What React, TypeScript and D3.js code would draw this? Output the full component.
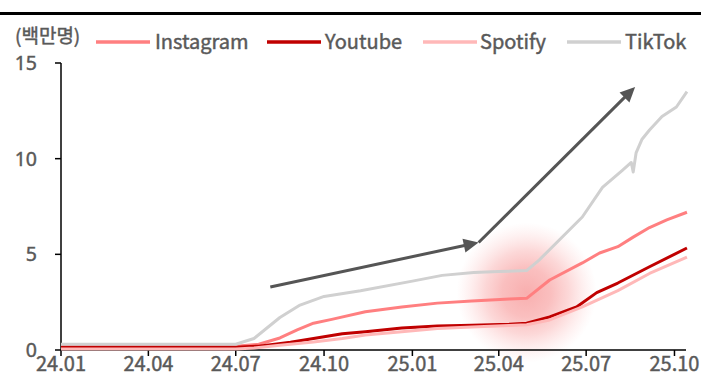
import React from "react";
import * as d3 from "d3";

const W = 701;
const H = 383;

const seriesNames = ["Instagram", "Youtube", "Spotify", "TikTok"];
const seriesColors = ["#ff7f80", "#c00000", "#ffb8b8", "#d0d0d0"];

const instagramDates = ["2024-01-01", "2024-07-01", "2024-07-25", "2024-08-16", "2024-09-03", "2024-09-20", "2024-10-09", "2024-11-13", "2024-12-21", "2025-01-27", "2025-03-04", "2025-04-12", "2025-04-30", "2025-05-24", "2025-06-27", "2025-07-15", "2025-08-03", "2025-08-19", "2025-09-05", "2025-09-23", "2025-10-14"];
const instagramValues = [0.2, 0.2, 0.3, 0.63, 1.05, 1.4, 1.6, 2.0, 2.25, 2.45, 2.56, 2.67, 2.7, 3.66, 4.55, 5.07, 5.4, 5.9, 6.4, 6.8, 7.2];

const youtubeDates = ["2024-01-01", "2024-07-01", "2024-07-25", "2024-08-27", "2024-09-20", "2024-10-20", "2024-11-13", "2024-12-21", "2025-01-27", "2025-03-04", "2025-04-12", "2025-04-30", "2025-05-24", "2025-06-21", "2025-07-12", "2025-08-03", "2025-09-05", "2025-10-14"];
const youtubeValues = [0.15, 0.15, 0.2, 0.4, 0.6, 0.85, 0.95, 1.15, 1.25, 1.3, 1.35, 1.4, 1.73, 2.25, 3.0, 3.5, 4.35, 5.33];

const spotifyDates = ["2024-01-01", "2024-07-01", "2024-07-20", "2024-08-16", "2024-09-20", "2024-10-20", "2024-11-13", "2024-12-21", "2025-01-27", "2025-03-04", "2025-04-12", "2025-04-30", "2025-05-24", "2025-06-27", "2025-08-03", "2025-09-05", "2025-10-14"];
const spotifyValues = [0.05, 0.05, 0.1, 0.25, 0.42, 0.6, 0.78, 0.95, 1.12, 1.2, 1.28, 1.32, 1.57, 2.25, 3.1, 4.0, 4.86];

const tiktokDates = ["2024-01-01", "2024-07-01", "2024-07-20", "2024-08-16", "2024-09-06", "2024-10-01", "2024-11-08", "2025-01-01", "2025-02-01", "2025-03-06", "2025-04-01", "2025-04-30", "2025-05-13", "2025-06-03", "2025-06-27", "2025-07-18", "2025-08-08", "2025-08-17", "2025-08-19", "2025-08-22", "2025-08-28", "2025-09-05", "2025-09-18", "2025-10-03", "2025-10-14"];
const tiktokValues = [0.3, 0.3, 0.6, 1.7, 2.35, 2.8, 3.1, 3.6, 3.9, 4.05, 4.1, 4.15, 4.7, 5.75, 6.95, 8.5, 9.4, 9.8, 9.3, 10.3, 11.0, 11.5, 12.2, 12.7, 13.5];

const xTickDates = ["2024-01-01", "2024-04-01", "2024-07-01", "2024-10-01", "2025-01-01", "2025-04-01", "2025-07-01", "2025-10-01"];
const xTickLabels = ["24.01", "24.04", "24.07", "24.10", "25.01", "25.04", "25.07", "25.10"];
const yTicks = [0, 5, 10, 15];
const unitLabel = "(백만명)";

// Trend arrows in data space: [date, value] waypoints
const arrowPoints: [string, number][] = [["2024-08-06", 3.29], ["2025-03-11", 5.62], ["2025-08-21", 13.75]];
// Highlight glow centre
const glowCenter: [string, number] = ["2025-04-30", 3.0];

const parse = d3.utcParse("%Y-%m-%d");

const seriesDates = [instagramDates, youtubeDates, spotifyDates, tiktokDates];
const seriesValues = [instagramValues, youtubeValues, spotifyValues, tiktokValues];

const FONT = "'Noto Sans CJK KR', 'Noto Sans', sans-serif";
const NUM_FONT = "'Noto Sans', sans-serif";
const TEXT = "#595959";
const textStyle = { fontFamily: FONT, fontSize: 20, fill: TEXT, stroke: TEXT, strokeWidth: 0.45 } as const;

export default function App() {
  const x = d3
    .scaleUtc()
    .domain([parse("2024-01-01")!, parse("2025-10-13")!])
    .range([61, 686]);
  const y = d3.scaleLinear().domain([0, 15]).range([350, 63]);

  const line = d3
    .line<[Date, number]>()
    .x((d) => x(d[0]))
    .y((d) => y(d[1]))
    .curve(d3.curveLinear);

  const paths = seriesNames.map((name, i) => {
    const pts: [Date, number][] = seriesDates[i].map((ds, j) => [parse(ds)!, seriesValues[i][j]]);
    return { name, color: seriesColors[i], d: line(pts) || "" };
  });

  const ap = arrowPoints.map(([ds, v]) => [x(parse(ds)!), y(v)] as [number, number]);
  const arrowHead = (from: [number, number], to: [number, number]) => {
    const ang = Math.atan2(to[1] - from[1], to[0] - from[0]);
    const len = 15;
    const half = 7;
    const bx = to[0] - len * Math.cos(ang);
    const by = to[1] - len * Math.sin(ang);
    const px = -Math.sin(ang) * half;
    const py = Math.cos(ang) * half;
    return `M${to[0]},${to[1]}L${bx + px},${by + py}L${bx - px},${by - py}Z`;
  };
  const shaft = (from: [number, number], to: [number, number]) => {
    const ang = Math.atan2(to[1] - from[1], to[0] - from[0]);
    const ex = to[0] - 12 * Math.cos(ang);
    const ey = to[1] - 12 * Math.sin(ang);
    return `M${from[0]},${from[1]}L${ex},${ey}`;
  };

  const gx = x(parse(glowCenter[0])!);
  const gy = y(glowCenter[1]);

  const legendItems = [
    { x0: 96, label: 155 },
    { x0: 267, label: 325 },
    { x0: 423, label: 480 },
    { x0: 567, label: 625 },
  ];

  return (
    <div style={{ position: "fixed", left: 0, top: 0, width: W, height: H, background: "#fff" }}>
      <svg width={W} height={H} style={{ display: "block" }}>
        <defs>
          <radialGradient id="glow" cx="50%" cy="50%" r="50%">
            <stop offset="0%" stopColor="#f04848" stopOpacity={0.44} />
            <stop offset="35%" stopColor="#f25252" stopOpacity={0.37} />
            <stop offset="60%" stopColor="#f46262" stopOpacity={0.25} />
            <stop offset="80%" stopColor="#f77777" stopOpacity={0.12} />
            <stop offset="100%" stopColor="#fa9090" stopOpacity={0} />
          </radialGradient>
        </defs>
        <rect x={0} y={0} width={W} height={H} fill="#fff" />
        <rect x={0} y={12} width={W} height={3} fill="#000" />

        {/* legend */}
        <text x={15} y={43} {...textStyle} fontSize={19}>{unitLabel}</text>
        {paths.map((p, i) => (
          <g key={p.name}>
            <line x1={legendItems[i].x0} x2={legendItems[i].x0 + 54} y1={42} y2={42} stroke={p.color} strokeWidth={3.5} />
            <text x={legendItems[i].label} y={49} {...textStyle}>{p.name}</text>
          </g>
        ))}

        {/* glow */}
        <circle cx={gx} cy={gy} r={70} fill="url(#glow)" />

        {/* axes */}
        <line x1={61} x2={61} y1={y(15)} y2={y(0)} stroke="#000" strokeWidth={1.5} />
        {yTicks.map((t) => (
          <g key={t}>
            <line x1={55} x2={61} y1={y(t)} y2={y(t)} stroke="#000" strokeWidth={1.5} />
            <text x={37} y={y(t) + 7} textAnchor="end" {...textStyle} fontFamily={NUM_FONT} fontSize={19.5}>{t}</text>
          </g>
        ))}
        <line x1={61} x2={x.range()[1]} y1={y(0)} y2={y(0)} stroke="#000" strokeWidth={1.5} />
        {xTickDates.map((ds, i) => {
          const xp = x(parse(ds)!);
          return (
            <g key={ds}>
              <line x1={xp} x2={xp} y1={y(0)} y2={y(0) + 6} stroke="#000" strokeWidth={1.5} />
              <text x={xp} y={371} textAnchor="middle" {...textStyle}>{xTickLabels[i]}</text>
            </g>
          );
        })}

        {/* series */}
        {paths.map((p) => (
          <path key={p.name} d={p.d} fill="none" stroke={p.color} strokeWidth={3} strokeLinejoin="round" />
        ))}

        {/* trend arrows */}
        {[0, 1].map((k) => (
          <g key={k}>
            <path d={shaft(ap[k], ap[k + 1])} stroke="#555" strokeWidth={3} fill="none" />
            <path d={arrowHead(ap[k], ap[k + 1])} fill="#555" />
          </g>
        ))}
      </svg>
    </div>
  );
}
